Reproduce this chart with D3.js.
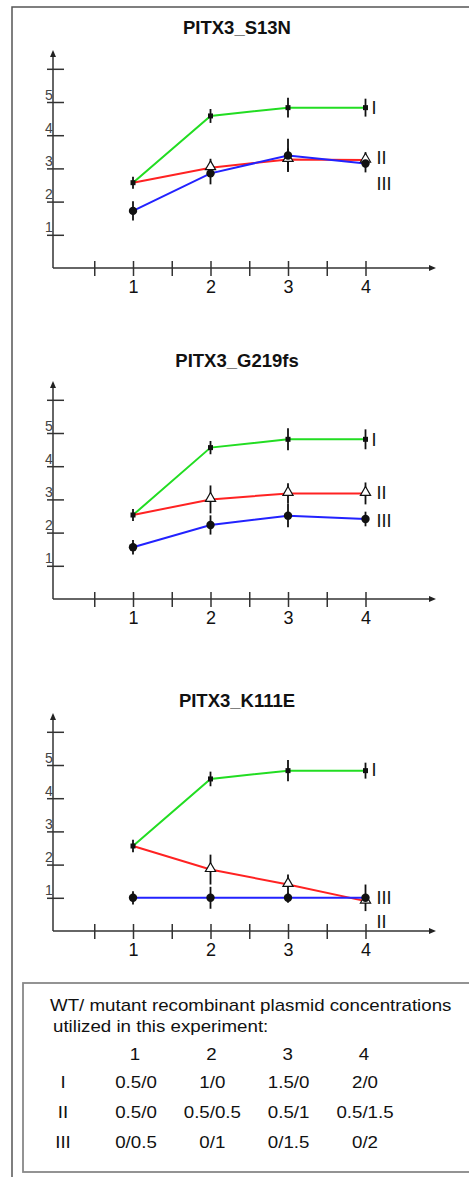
<!DOCTYPE html>
<html>
<head>
<meta charset="utf-8">
<script src="https://cdn.jsdelivr.net/npm/d3@7"></script>
<style>
  body { margin: 0; background: #fff; }
  svg { display: block; font-family: "Liberation Sans", Arial, sans-serif; }
</style>
</head>
<body>
<div id="chart"></div>
<script>
// x categories and tick values
const doses = [1, 2, 3, 4];
const xTicks = [0.5, 1, 1.5, 2, 2.5, 3, 3.5, 4];
const yTicks = [1, 2, 3, 4, 5, 6];
const seriesNames = ["I", "II", "III"];
const seriesColors = ["#22dd22", "#ff2222", "#2222ff"];

// PITX3_S13N
const s13n_I = [2.57, 4.58, 4.83, 4.83];
const s13n_II = [2.57, 3.02, 3.27, 3.25];
const s13n_III = [1.72, 2.85, 3.39, 3.15];
const s13n_errI = [0.18, 0.21, 0.3, 0.27];
const s13n_errII = [0, 0.27, 0.33, 0.24];
const s13n_errIII = [0.29, 0.33, 0.5, 0.27];
const s13n_labels = [4.83, 3.34, 2.56];

// PITX3_G219fs
const g219_I = [2.53, 4.56, 4.81, 4.81];
const g219_II = [2.53, 3.0, 3.18, 3.18];
const g219_III = [1.56, 2.23, 2.51, 2.41];
const g219_errI = [0.18, 0.2, 0.33, 0.3];
const g219_errII = [0, 0.42, 0.31, 0.33];
const g219_errIII = [0.22, 0.29, 0.35, 0.22];
const g219_labels = [4.79, 3.2, 2.35];

// PITX3_K111E
const k111_I = [2.56, 4.58, 4.83, 4.83];
const k111_II = [2.56, 1.85, 1.4, 0.9];
const k111_III = [1.0, 1.0, 1.0, 1.0];
const k111_errI = [0.19, 0.22, 0.32, 0.24];
const k111_errII = [0, 0.45, 0.3, 0];
const k111_errIII = [0.2, 0.33, 0.15, 0.4];
const k111_labels = [4.85, 0.3, 1.0];

const panelTitles = ["PITX3_S13N", "PITX3_G219fs", "PITX3_K111E"];

// legend table
const tableHeader = ["1", "2", "3", "4"];
const tableRowNames = ["I", "II", "III"];
const tableRowI = ["0.5/0", "1/0", "1.5/0", "2/0"];
const tableRowII = ["0.5/0", "0.5/0.5", "0.5/1", "0.5/1.5"];
const tableRowIII = ["0/0.5", "0/1", "0/1.5", "0/2"];

const panels = [
  { title: panelTitles[0], series: [s13n_I, s13n_II, s13n_III], errs: [s13n_errI, s13n_errII, s13n_errIII], labels: s13n_labels },
  { title: panelTitles[1], series: [g219_I, g219_II, g219_III], errs: [g219_errI, g219_errII, g219_errIII], labels: g219_labels },
  { title: panelTitles[2], series: [k111_I, k111_II, k111_III], errs: [k111_errI, k111_errII, k111_errIII], labels: k111_labels }
];

const width = 469, height = 1177;
const axisX = 53;
const axisYs = [268, 599, 931];
const titleYs = [34, 367, 707];
const unit = 33.2;

const svg = d3.select("#chart").append("svg")
  .attr("width", width)
  .attr("height", height);

// outer frame
svg.append("path")
  .attr("d", `M12,${height} V7 H${width + 2}`)
  .attr("fill", "none")
  .attr("stroke", "#555")
  .attr("stroke-width", 1.5);

const x = d3.scaleLinear().domain([1, 4]).range([133, 365.5]);

panels.forEach((p, pi) => {
  const base = axisYs[pi];
  const y = d3.scaleLinear().domain([0, 6]).range([base, base - 6 * unit]);
  const g = svg.append("g");

  // title
  g.append("text")
    .attr("x", 237)
    .attr("y", titleYs[pi])
    .attr("text-anchor", "middle")
    .attr("font-size", 18.5)
    .attr("font-weight", "bold")
    .attr("fill", "#111")
    .text(p.title);

  // axes
  const xAxis = d3.axisBottom(x)
    .tickValues(xTicks)
    .tickSize(0)
    .tickFormat(d => Number.isInteger(d) ? d : "");
  const gx = g.append("g")
    .attr("transform", `translate(0,${base})`)
    .call(xAxis);
  gx.select(".domain").remove();
  gx.selectAll(".tick line")
    .attr("y1", -7).attr("y2", 8)
    .attr("stroke", "#333").attr("stroke-width", 1.5);
  gx.selectAll(".tick text")
    .attr("y", 25).attr("dy", 0)
    .attr("font-size", 18)
    .attr("font-family", "Liberation Sans, Arial, sans-serif")
    .attr("fill", "#111");

  const yAxis = d3.axisLeft(y)
    .tickValues(yTicks)
    .tickSize(0)
    .tickFormat(d => d <= 5 ? d : "");
  const gy = g.append("g")
    .attr("transform", `translate(${axisX},0)`)
    .call(yAxis);
  gy.select(".domain").remove();
  gy.selectAll(".tick line")
    .attr("x1", -6).attr("x2", 11)
    .attr("stroke", "#333").attr("stroke-width", 1.5);
  gy.selectAll(".tick text")
    .attr("x", -4).attr("y", -3).attr("dy", 0)
    .attr("text-anchor", "middle")
    .attr("font-size", 14)
    .attr("font-family", "Liberation Sans, Arial, sans-serif")
    .attr("fill", "#444");

  // axis lines with arrows
  const top = base - 218;
  g.append("line")
    .attr("x1", axisX).attr("x2", axisX)
    .attr("y1", base).attr("y2", top + 4)
    .attr("stroke", "#333").attr("stroke-width", 1.5);
  g.append("path")
    .attr("d", `M${axisX},${top} L${axisX - 3},${top + 7} L${axisX + 3},${top + 7} Z`)
    .attr("fill", "#222");
  g.append("line")
    .attr("x1", axisX).attr("x2", 430)
    .attr("y1", base).attr("y2", base)
    .attr("stroke", "#333").attr("stroke-width", 1.5);
  g.append("path")
    .attr("d", `M436,${base} L429,${base - 3} L429,${base + 3} Z`)
    .attr("fill", "#222");

  const line = d3.line()
    .x((d, i) => x(doses[i]))
    .y(d => y(d));

  // lines
  p.series.forEach((s, si) => {
    g.append("path")
      .datum(s)
      .attr("d", line)
      .attr("fill", "none")
      .attr("stroke", seriesColors[si])
      .attr("stroke-width", 2);
  });

  // error bars
  p.series.forEach((s, si) => {
    g.selectAll(null)
      .data(s.map((v, i) => ({ v, i, e: p.errs[si][i] })).filter(d => d.e > 0))
      .enter()
      .append("line")
      .attr("x1", d => x(doses[d.i]))
      .attr("x2", d => x(doses[d.i]))
      .attr("y1", d => y(d.v - d.e))
      .attr("y2", d => y(d.v + d.e))
      .attr("stroke", "#111")
      .attr("stroke-width", 1.8);
  });

  // markers: I squares, II open triangles, III filled circles
  g.selectAll(null)
    .data(p.series[0])
    .enter()
    .append("rect")
    .attr("x", (d, i) => x(doses[i]) - 2.5)
    .attr("y", d => y(d) - 2.5)
    .attr("width", 5)
    .attr("height", 5)
    .attr("fill", "#111");

  g.selectAll(null)
    .data(p.series[1].map((v, i) => ({ v, i })).filter(d => d.v !== p.series[0][d.i]))
    .enter()
    .append("path")
    .attr("d", d3.symbol().type(d3.symbolTriangle).size(45))
    .attr("transform", d => `translate(${x(doses[d.i])},${y(d.v) - 1})`)
    .attr("fill", "#fff")
    .attr("stroke", "#111")
    .attr("stroke-width", 1.2);

  g.selectAll(null)
    .data(p.series[2])
    .enter()
    .append("circle")
    .attr("cx", (d, i) => x(doses[i]))
    .attr("cy", d => y(d))
    .attr("r", 4.2)
    .attr("fill", "#111");

  // series labels
  g.selectAll(null)
    .data(seriesNames)
    .enter()
    .append("text")
    .attr("x", (d, i) => x(4) + (i === 0 ? 6 : 11))
    .attr("y", (d, i) => y(p.labels[i]) + 6.5)
    .attr("font-size", 18)
    .attr("fill", "#111")
    .text(d => d);
});

// legend box
const box = svg.append("g");
box.append("rect")
  .attr("x", 23).attr("y", 983)
  .attr("width", width)
  .attr("height", 189)
  .attr("fill", "none")
  .attr("stroke", "#888")
  .attr("stroke-width", 1.8);

function stretchText(sel, tx, ty, txt, anchor) {
  sel.append("text")
    .attr("transform", `translate(${tx},${ty}) scale(1.17,1)`)
    .attr("text-anchor", anchor || "start")
    .attr("font-size", 16)
    .attr("fill", "#111")
    .text(txt);
}

stretchText(box, 50, 1011, "WT/ mutant recombinant plasmid concentrations");
stretchText(box, 53, 1032, "utilized in this experiment:");

const colX = d3.scalePoint().domain(tableHeader).range([135, 364]);
tableHeader.forEach(h => stretchText(box, colX(h), 1060, h, "middle"));

const rowY = d3.scalePoint().domain(tableRowNames).range([1088, 1148]);
[tableRowI, tableRowII, tableRowIII].forEach((row, ri) => {
  const rn = tableRowNames[ri];
  stretchText(box, 63, rowY(rn), rn, "middle");
  row.forEach((cell, ci) => stretchText(box, colX(tableHeader[ci]) + 1, rowY(rn), cell, "middle"));
});
</script>
</body>
</html>
